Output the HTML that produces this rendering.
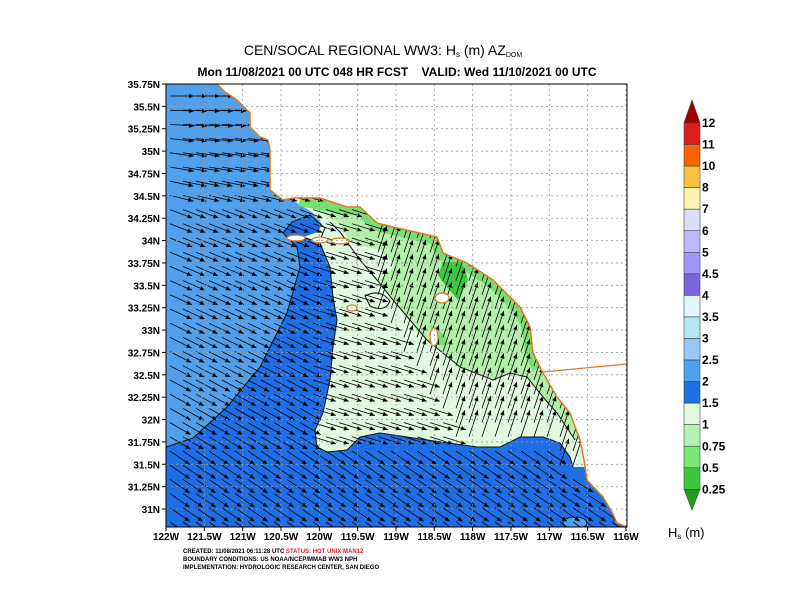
<!DOCTYPE html>
<html><head><meta charset="utf-8"><style>
body{margin:0;background:#fff;}
svg{display:block;font-family:"Liberation Sans",sans-serif;font-weight:bold;}
</style></head><body>
<svg id="s" width="792" height="612" viewBox="0 0 792 612" xmlns="http://www.w3.org/2000/svg">
<defs><clipPath id="pc"><rect x="166" y="84" width="461" height="443"/></clipPath></defs>
<g clip-path="url(#pc)">
<rect x="166" y="84" width="461" height="443" fill="#50a0ec"/>
<polygon fill="#1e6ee6" points="166,447 193,438 227,407 260,367 287,313 300,267 297,247 283,233 292,222 310,215 325,228 320,240 627,240 627,527 166,527"/>
<polygon fill="#e0fae0" points="292,200 312,212 322,224 318,232 303,237 320,243 330,267 333,297 337,320 333,347 330,380 323,413 315,430 317,447 327,452 347,450 360,437 380,433 427,440 477,447 500,447 520,437 543,437 560,443 570,457 573,467 627,467 627,195 292,195"/>
<polygon fill="#b4f0ac" points="318,210 340,225 360,260 377,280 393,300 427,340 460,367 493,380 510,373 527,377 543,397 557,413 575,440 627,440 627,195 300,195"/>
<polygon fill="#e0fae0" points="340,240 380,250 395,265 380,280 360,270"/>
<polyline fill="none" stroke="#78e070" stroke-width="16" points="300,198 347,207 360,207 377,223 393,227 437,237 443,253 467,263 493,280 520,307 530,327 533,353 540,367"/>
<polygon fill="#3cc83c" points="443,262 462,262 468,280 458,300 445,285 438,275"/>
<polygon fill="#78e070" points="430,325 445,335 448,345 435,345"/>
<ellipse cx="575" cy="523" rx="12" ry="6" fill="#50a0ec" stroke="#000" stroke-width="0.8"/>
<g fill="none" stroke="#111" stroke-width="1">
<polyline points="166,447 193,438 227,407 260,367 287,313 300,267 297,247 283,233 292,222 310,215 325,228 320,240"/>
<polyline points="303,237 320,243 330,267 333,297 337,320 333,347 330,380 323,413 315,430 317,447 327,452 347,450 360,437 380,433 427,440 477,447 500,447 520,437 543,437 560,443 570,457 573,467"/>
<polyline points="330,222 340,232 360,260 377,280 393,300 427,340 460,367 493,380 510,373 527,377 543,397 557,413 575,440"/>
<path d="M365,296 q15,-8 25,5 q-5,12 -20,5 z"/>
</g>
<g id="arrows" stroke="#000" stroke-width="0.8" fill="#000"></g>
<polygon id="land" fill="#fff" stroke="#e07820" stroke-width="1.5" points="217,84 225,92 237,100 250,113 250,127 260,137 268,140 270,150 270,167 270,190 283,200 293,198 320,198 347,207 360,207 377,223 393,227 437,237 443,253 467,263 493,280 520,307 530,327 533,353 540,367 543,373 557,397 570,413 580,440 584,460 587,480 603,497 612,512 617,523 627,527 660,527 660,60 217,60"/>
<line x1="543" y1="372" x2="627" y2="364" stroke="#e07820" stroke-width="1.2"/>
<g fill="#fff" stroke="#e07820" stroke-width="1.2">
<ellipse cx="296" cy="238" rx="9" ry="3"/>
<ellipse cx="320" cy="240" rx="8" ry="3"/>
<ellipse cx="340" cy="241" rx="9" ry="3"/>
<ellipse cx="352" cy="308" rx="5" ry="3"/>
<ellipse cx="442" cy="298" rx="7" ry="5"/>
<ellipse cx="434" cy="337" rx="4" ry="9"/>
</g>
<g id="grid" stroke="#999" stroke-width="0.8" stroke-dasharray="2,3"></g>
</g>
<rect x="166" y="84" width="461" height="443" fill="none" stroke="#000" stroke-width="1"/>
<g id="ticks" stroke="#000" stroke-width="1"></g>
<g id="labels" font-size="10" fill="#000"></g>
<text x="383" y="55" font-size="14" text-anchor="middle" font-weight="normal">CEN/SOCAL REGIONAL WW3: H<tspan font-size="8" dy="2">s</tspan><tspan dy="-2"> (m) AZ</tspan><tspan font-size="7" dy="2">DOM</tspan></text>
<text x="397" y="76" font-size="12" text-anchor="middle">Mon 11/08/2021 00 UTC 048 HR FCST &#160;&#160;&#160;VALID: Wed 11/10/2021 00 UTC</text>
<g font-size="6">
<text x="183" y="553">CREATED: 11/08/2021 06:11:28 UTC <tspan fill="#e02020">STATUS: HOT UNIX MAN12</tspan></text>
<text x="183" y="561">BOUNDARY CONDITIONS: US NOAA/NCEP/MMAB WW3 NPH</text>
<text x="183" y="569">IMPLEMENTATION: HYDROLOGIC RESEARCH CENTER, SAN DIEGO</text>
</g>
<g id="cbar" stroke="#444" stroke-width="0.6"></g>
<text x="668" y="537" font-size="13" font-weight="normal">H<tspan font-size="8" dy="2">s</tspan><tspan dy="-2"> (m)</tspan></text>
</svg>
<script>
(function(){
var NS="http://www.w3.org/2000/svg";
function el(p,t,a,txt){var e=document.createElementNS(NS,t);for(var k in a)e.setAttribute(k,a[k]);if(txt)e.textContent=txt;p.appendChild(e);return e;}
var g=document.getElementById('grid'),tk=document.getElementById('ticks'),lb=document.getElementById('labels');
var lons=['122W','121.5W','121W','120.5W','120W','119.5W','119W','118.5W','118W','117.5W','117W','116.5W','116W'];
for(var i=0;i<13;i++){var x=166+i*38.33;el(g,'line',{x1:x,y1:84,x2:x,y2:527});el(tk,'line',{x1:x,y1:527,x2:x,y2:531});
 el(lb,'text',{x:x,y:540,'text-anchor':'middle'},lons[i]);}
var lats=['35.75N','35.5N','35.25N','35N','34.75N','34.5N','34.25N','34N','33.75N','33.5N','33.25N','33N','32.75N','32.5N','32.25N','32N','31.75N','31.5N','31.25N','31N'];
for(var j=0;j<20;j++){var y=84+j*22.37;el(g,'line',{x1:166,y1:y,x2:627,y2:y});el(tk,'line',{x1:162,y1:y,x2:166,y2:y});
 el(lb,'text',{x:160,y:y+4,'text-anchor':'end'},lats[j]);}
var ag=document.getElementById('arrows');
function arrow(x,y,ang,L){var c=Math.cos(ang),s=Math.sin(ang);var x2=x+L*c,y2=y+L*s;
 el(ag,'line',{x1:x,y1:y,x2:x2,y2:y2});
 var h=5,w=2.2;el(ag,'polygon',{points:x2+','+y2+' '+(x2-h*c-w*s)+','+(y2-h*s+w*c)+' '+(x2-h*c+w*s)+','+(y2-h*s-w*c),stroke:'none'});}
for(var yy=96;yy<525;yy+=14.2){for(var xx=170;xx<625;xx+=13){
 var ang,L=24;
 var xb=370+Math.max(0,yy-300)*0.6;
 if(yy<200){ang=(yy-96)/104*0.25;}
 else if(yy>450&&xx<560){ang=0.6;}
 else if(xx>xb && yy<470){ang=-1.25;L=28;}
 else {ang=0.35+(yy-200)/250*0.2; if(xx>300&&yy<450) ang=0.3;}
 arrow(xx,yy,ang,L);}}
var cb=document.getElementById('cbar');
var cols=['#a00000','#dc1e1e','#fc6400','#fcc040','#fcf4b0','#dcdcfc','#c0b8fc','#a096f8','#7864dc','#e0f8fc','#b4e8f4','#96c8f8','#50a0f0','#1e6ee6','#e0fae0','#b4f4b0','#78e878','#3cc83c','#1e9e1e'];
var labs=['12','11','10','8','7','6','5','4.5','4','3.5','3','2.5','2','1.5','1','0.75','0.5','0.25'];
var t0=123,hh=21.55,x0=684,x1=700;
el(cb,'polygon',{points:x0+','+t0+' '+x1+','+t0+' '+(x0+8)+',100',fill:cols[0]});
for(var k=0;k<17;k++){el(cb,'rect',{x:x0,y:t0+k*hh,width:16,height:hh,fill:cols[k+1]});}
var bot=t0+17*hh;
el(cb,'polygon',{points:x0+','+bot+' '+x1+','+bot+' '+(x0+8)+',510',fill:cols[18]});
for(var k=0;k<18;k++){el(lb,'text',{x:702,y:t0+k*hh+4,'font-size':12},labs[k]);}
})();
</script>
</body></html>
